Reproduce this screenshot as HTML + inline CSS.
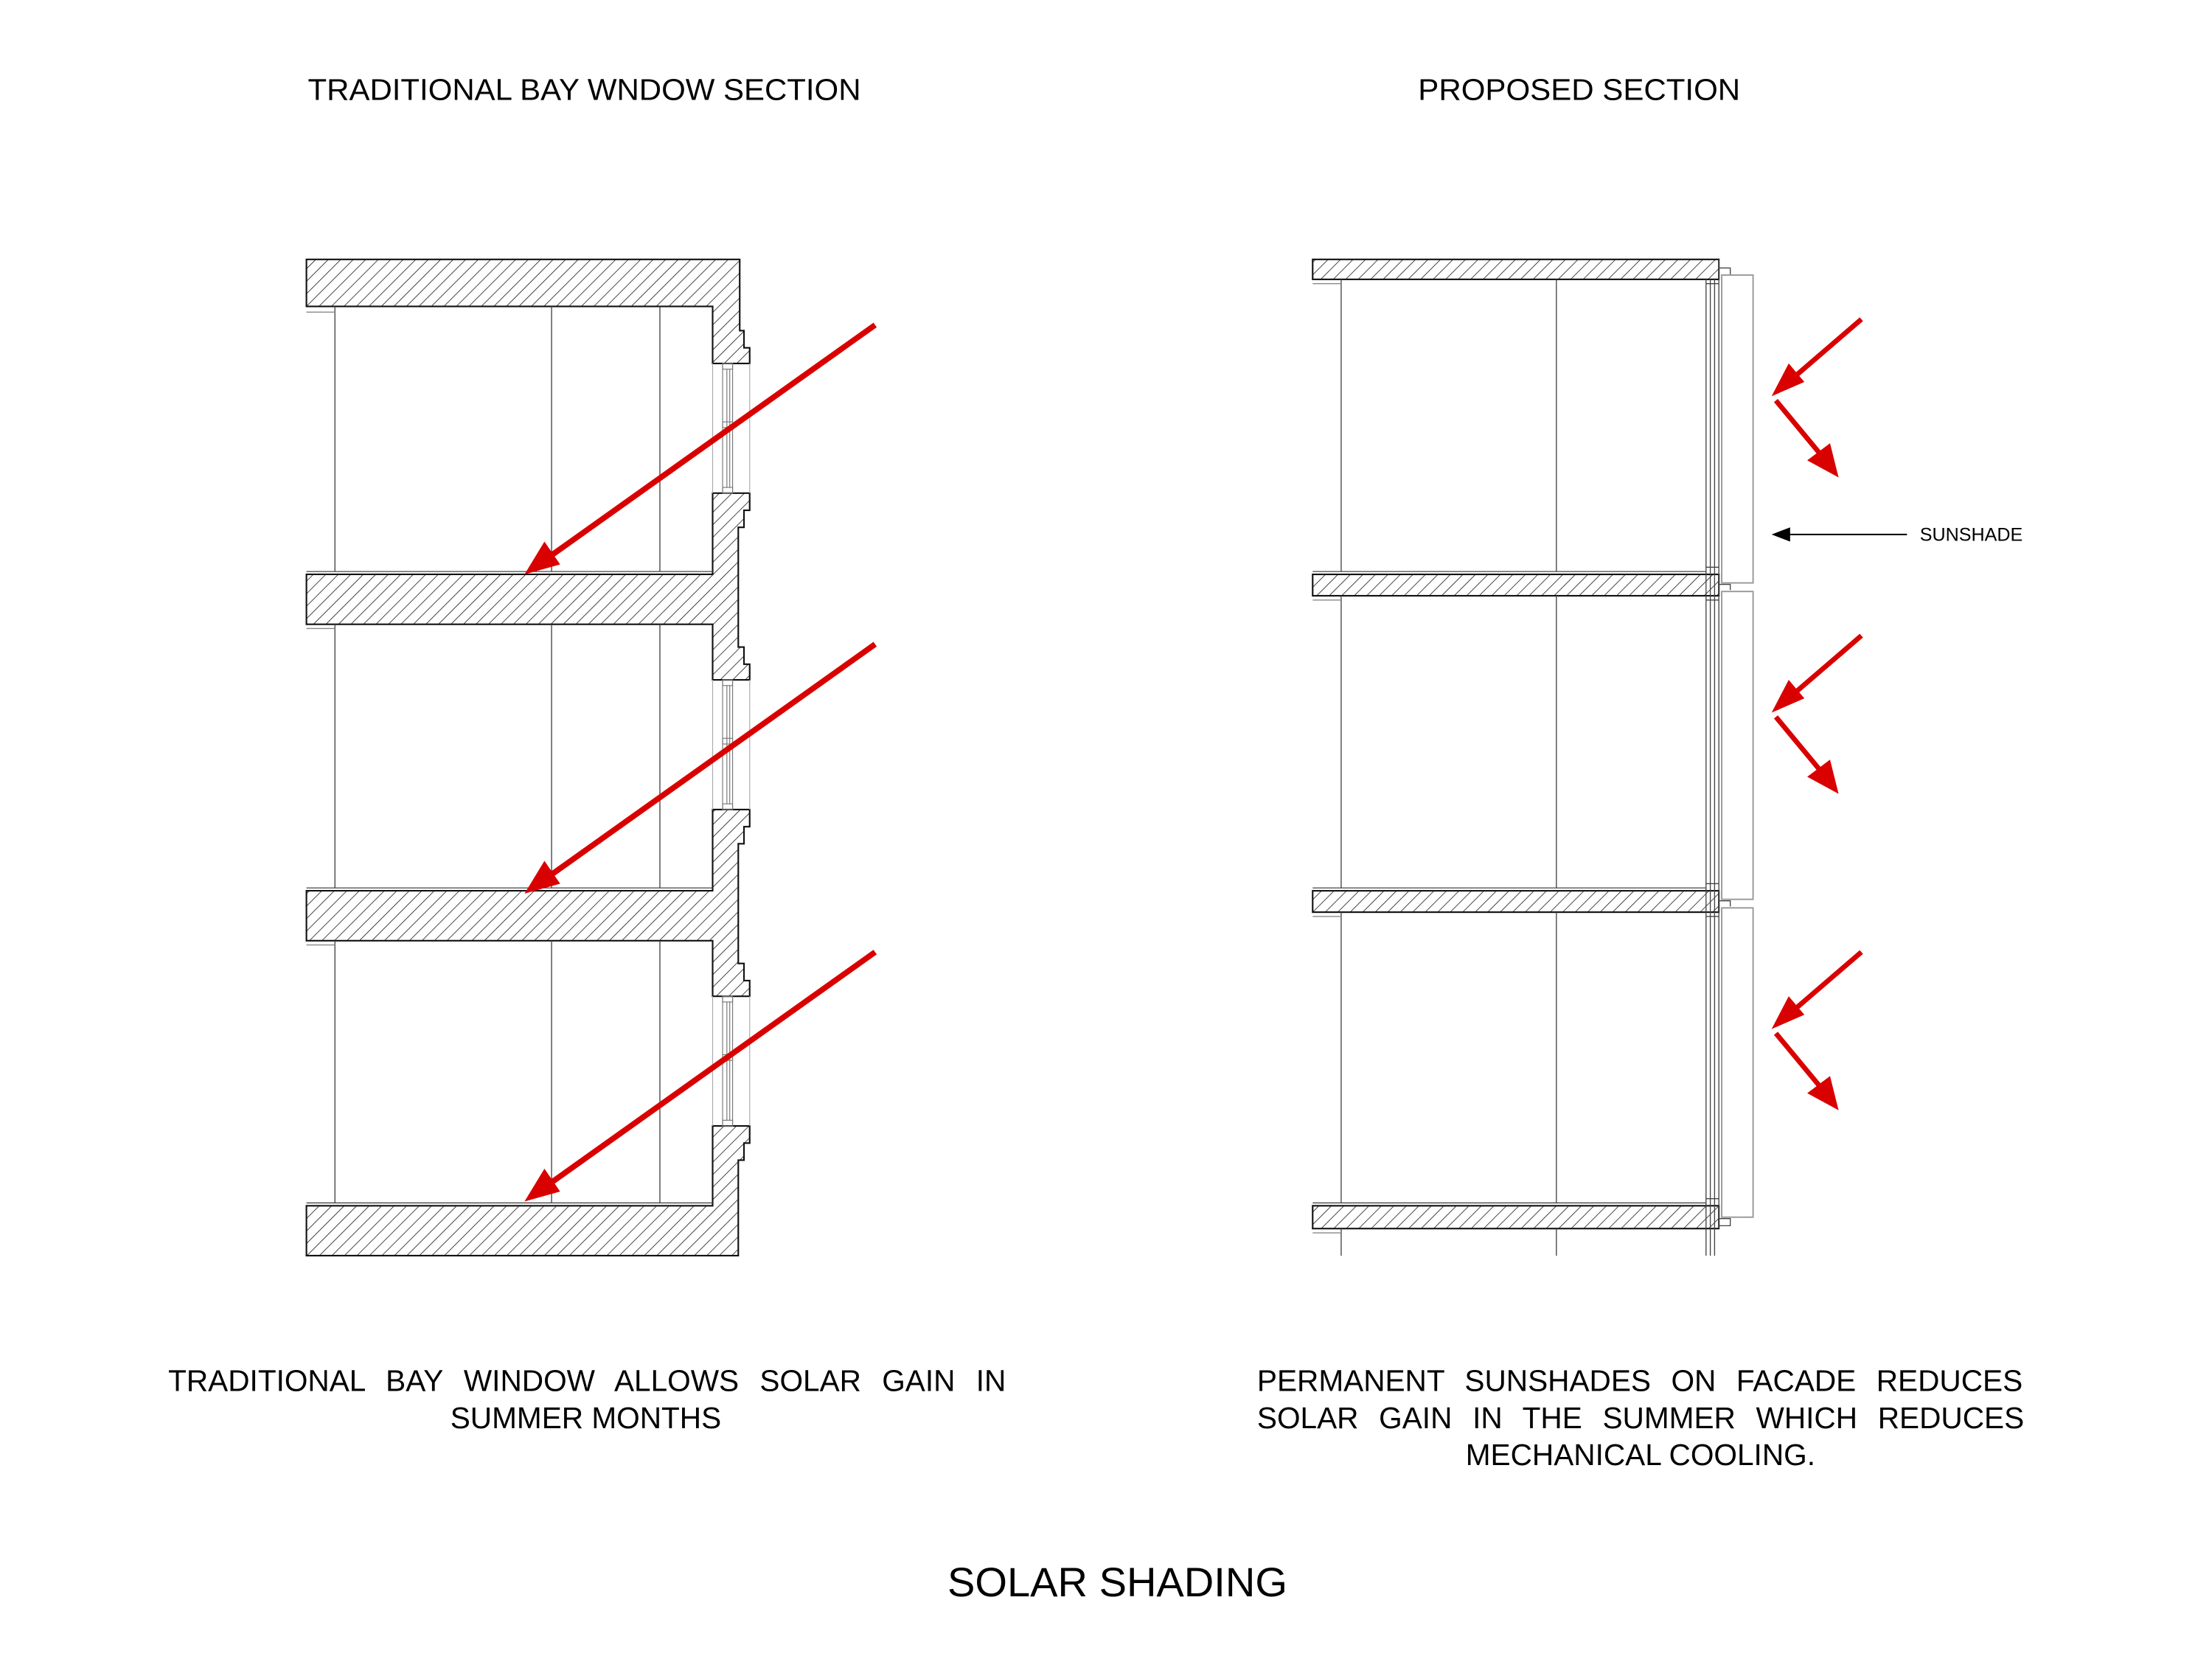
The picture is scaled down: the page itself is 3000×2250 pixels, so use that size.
<!DOCTYPE html>
<html><head><meta charset="utf-8"><style>
html,body{margin:0;padding:0;background:#fff;}
svg{display:block;}
text{font-family:"Liberation Sans",Arial,sans-serif;fill:#000;}
</style></head><body>
<svg width="3000" height="2250" viewBox="0 0 1552 1164" xmlns="http://www.w3.org/2000/svg">
<defs>
<pattern id="h" width="6.2" height="6.2" patternUnits="userSpaceOnUse" patternTransform="rotate(45)">
<line x1="0" y1="0" x2="0" y2="6.2" stroke="#111" stroke-width="0.8"/>
</pattern>
</defs>
<rect width="1552" height="1164" fill="#fff"/>

<text x="410" y="70" font-size="21" text-anchor="middle" textLength="388" lengthAdjust="spacingAndGlyphs">TRADITIONAL BAY WNDOW SECTION</text>
<text x="1108" y="70" font-size="21" text-anchor="middle" textLength="226" lengthAdjust="spacingAndGlyphs">PROPOSED SECTION</text>

<!-- LEFT DIAGRAM -->
<g stroke="#111" stroke-width="1.1" fill="url(#h)">
<path d="M215,182 H519 V232 H522 V244 H526 V255 H500 V215 H215 Z"/>
<path d="M526,346 V358 H522 V370 H518 V454 H522 V466 H526 V477 H500 V438 H215 V403 H500 V346 Z"/>
<path d="M526,568 V580 H522 V592 H518 V676 H522 V688 H526 V699 H500 V660 H215 V625 H500 V568 Z"/>
<path d="M526,790 V802 H522 V814 H518 V881 H215 V846 H500 V790 Z"/>
</g>
<g stroke="#444" stroke-width="0.7" fill="none">
<line x1="215" y1="401" x2="500" y2="401"/>
<line x1="215" y1="623" x2="500" y2="623"/>
<line x1="215" y1="844" x2="500" y2="844"/>
<path d="M235,215 V401 M387,215 V401 M463,215 V401"/>
<path d="M235,438 V623 M387,438 V623 M463,438 V623"/>
<path d="M235,660 V844 M387,660 V844 M463,660 V844"/>
<path d="M215,219 H235 M215,441 H235 M215,663 H235" stroke="#888"/>
</g>
<g stroke="#777" stroke-width="0.6" fill="none">
<g id="w1">
<line x1="500" y1="255" x2="500" y2="346" stroke="#aaa"/>
<line x1="526" y1="255" x2="526" y2="346" stroke="#aaa"/>
<rect x="507" y="255" width="7" height="91"/>
<line x1="510" y1="259" x2="510" y2="342"/>
<line x1="512" y1="259" x2="512" y2="342"/>
<rect x="507" y="255" width="7" height="4"/>
<rect x="507" y="296" width="7" height="4"/>
<rect x="507" y="342" width="7" height="4"/>
</g>
<use href="#w1" y="222"/>
<use href="#w1" y="444"/>
</g>
<g fill="#d90000" stroke="#d90000">
<line x1="614" y1="228" x2="385" y2="391" stroke-width="4"/>
<polygon points="368,403 382,380 393,396" stroke="none"/>
<line x1="614" y1="452" x2="385" y2="615" stroke-width="4"/>
<polygon points="368,627 382,604 393,620" stroke="none"/>
<line x1="614" y1="668" x2="385" y2="831" stroke-width="4"/>
<polygon points="368,843 382,820 393,836" stroke="none"/>
</g>

<!-- RIGHT DIAGRAM -->
<g stroke="#111" stroke-width="1.1" fill="url(#h)">
<rect x="921" y="182" width="285" height="14"/>
<rect x="921" y="403" width="285" height="15"/>
<rect x="921" y="625" width="285" height="15"/>
<rect x="921" y="846" width="285" height="16"/>
</g>
<g stroke="#444" stroke-width="0.7" fill="none">
<line x1="921" y1="401" x2="1197" y2="401"/>
<line x1="921" y1="623" x2="1197" y2="623"/>
<line x1="921" y1="844" x2="1197" y2="844"/>
<path d="M941,196 V401 M1092,196 V401 M941,418 V623 M1092,418 V623 M941,640 V844 M1092,640 V844 M941,862 V881 M1092,862 V881"/>
<path d="M921,199 H941 M921,421 H941 M921,643 H941 M921,865 H941" stroke="#888"/>
<path d="M1197,196 V881 M1200,196 V881 M1203,196 V881"/>
<path d="M1206,182 V862"/>
<path d="M1197,199 H1206 M1197,398 H1206 M1197,421 H1206 M1197,620 H1206 M1197,643 H1206 M1197,841 H1206"/>
<path d="M1206,188 H1214 V193 M1206,410 H1214 V414 M1206,632 H1214 V636 M1206,855 H1214 V860 H1206"/>
</g>
<g stroke="#999" stroke-width="1" fill="none">
<rect x="1208" y="193" width="22" height="216"/>
<rect x="1208" y="415" width="22" height="216"/>
<rect x="1208" y="637" width="22" height="217"/>
</g>
<g fill="#d90000" stroke="#d90000">
<g id="ra">
<line x1="1306" y1="224" x2="1256" y2="267" stroke-width="3.5"/>
<polygon points="1243,278 1255,255 1266,268" stroke="none"/>
<line x1="1246" y1="281" x2="1280" y2="322" stroke-width="3.5"/>
<polygon points="1290,335 1268,323 1284,311" stroke="none"/>
</g>
<use href="#ra" y="222"/>
<use href="#ra" y="444"/>
</g>
<line x1="1254" y1="375" x2="1338" y2="375" stroke="#000" stroke-width="1"/>
<polygon points="1243,375 1256,370 1256,380" fill="#000"/>
<text x="1347" y="379.5" font-size="13">SUNSHADE</text>

<!-- captions -->
<g font-size="21">
<text x="118" y="976" word-spacing="8.8">TRADITIONAL BAY WINDOW ALLOWS SOLAR GAIN IN</text>
<text x="411" y="1002" text-anchor="middle">SUMMER MONTHS</text>
<text x="882" y="976" word-spacing="8.4">PERMANENT SUNSHADES ON FACADE REDUCES</text>
<text x="882" y="1002" word-spacing="8.5">SOLAR GAIN IN THE SUMMER WHICH REDUCES</text>
<text x="1151" y="1028" text-anchor="middle">MECHANICAL COOLING.</text>
</g>
<text x="784" y="1120" font-size="29" text-anchor="middle">SOLAR SHADING</text>
</svg>
</body></html>
